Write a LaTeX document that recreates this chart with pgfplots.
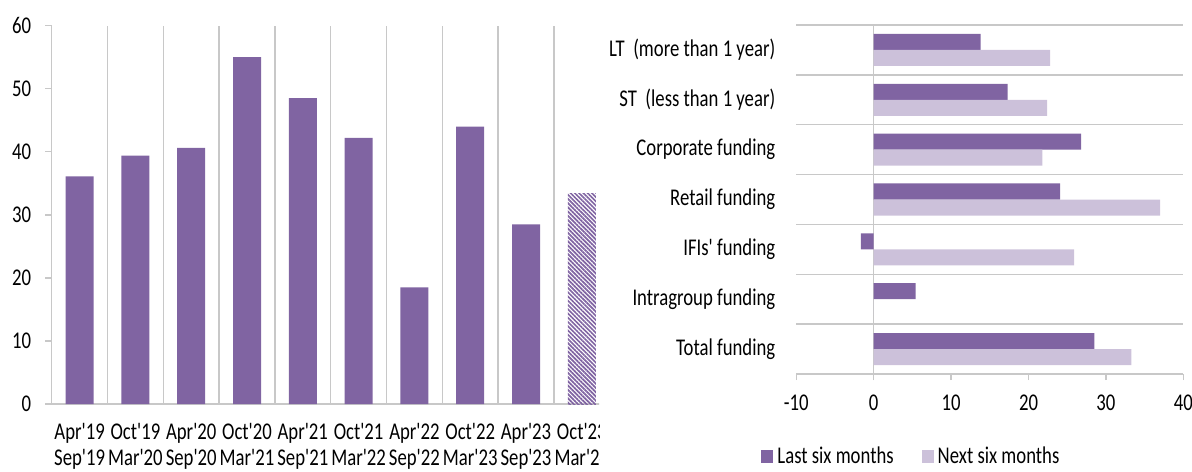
\documentclass[border=0pt]{standalone}
\usepackage{fontspec}
\setmainfont{Carlito}[FakeStretch=0.78, Ligatures=TeXOff]
\usepackage{pgfplots}
\pgfplotsset{compat=1.18}
\usetikzlibrary{patterns.meta}
\definecolor{dk}{RGB}{128,100,162}
\definecolor{lt}{RGB}{204,193,218}
\definecolor{gridc}{RGB}{200,200,200}
\begin{document}
\begin{tikzpicture}
\useasboundingbox (0,0) rectangle (596pt,235.5pt);
\begin{scope}
\clip (0,0) rectangle (299.5pt,235.5pt);
\begin{axis}[
  at={(25.85pt,33.5pt)}, anchor=south west,
  scale only axis, width=279pt, height=189.2pt,
  xmin=-0.5, xmax=9.5, ymin=0, ymax=60,
  ytick={0,10,...,60},
  xtick={0,...,9},
  xticklabels={{Apr'19\\Sep'19},{Oct'19\\Mar'20},{Apr'20\\Sep'20},{Oct'20\\Mar'21},{Apr'21\\Sep'21},{Oct'21\\Mar'22},{Apr'22\\Sep'22},{Oct'22\\Mar'23},{Apr'23\\Sep'23},{Oct'23\\Mar'24}},
  minor xtick={-0.5,0.5,...,9.5},
  xminorgrids, minor grid style={gridc, line width=0.75pt},
  axis x line*=bottom, axis y line*=left,
  axis line style={gridc, line width=0.75pt},
  x axis line style={-}, y axis line style={-},
  tick style={gridc, line width=0.75pt},
  tick align=outside,
  major tick length=3.3pt, minor tick length=4pt,
  xtick style={draw=none},
  /pgf/number format/assume math mode=true,
  tick label style={font=\fontsize{12}{13}\selectfont},
  xticklabel style={align=center, yshift=-3pt},
  yticklabel style={xshift=-3.5pt},
  ybar, bar width=14pt,
]
\addplot[fill=dk, draw=none, bar shift=0pt] coordinates {(0,36.1) (1,39.4) (2,40.6) (3,55.0) (4,48.5) (5,42.2) (6,18.5) (7,44.0) (8,28.5)};
\addplot[draw=none, bar shift=0pt, pattern={Lines[angle=-45,distance=1.5pt,line width=0.85pt]}, pattern color=dk] coordinates {(9,33.3)};
\end{axis}
\end{scope}
\begin{axis}[
  at={(398.15pt,48.5pt)}, anchor=south west,
  scale only axis, width=193.5pt, height=174.5pt,
  xmin=-10, xmax=40, ymin=-0.5, ymax=6.5,
  xtick={-10,0,...,40},
  ytick={0,...,6},
  yticklabels={Total funding, Intragroup funding, IFIs' funding, Retail funding, Corporate funding, {ST\ \ (less than 1 year)}, {LT\ \ (more than 1 year)}},
  minor ytick={-0.5,0.5,...,6.5},
  yminorgrids, minor grid style={gridc, line width=0.75pt},
  axis x line*=bottom, axis y line*=left,
  axis line style={gridc, line width=0.75pt},
  x axis line style={-}, y axis line style={draw=none},
  tick style={gridc, line width=0.75pt},
  tick align=outside,
  major tick length=3pt,
  ytick style={draw=none},
  minor tick length=0pt,
  extra x ticks={0}, extra x tick labels={},
  extra x tick style={grid=major, major grid style={gridc, line width=0.75pt}},
  /pgf/number format/assume math mode=true,
  tick label style={font=\fontsize{12}{13}\selectfont},
  yticklabel style={anchor=east, xshift=-4pt},
  xticklabel style={yshift=-4pt},
  xbar, bar width=8pt,
  legend style={at={(axis description cs:0.30,-0.237)}, anchor=center, draw=none, font=\fontsize{12}{13}\selectfont, legend columns=2, /tikz/every even column/.append style={column sep=12pt}},
  legend image code/.code={\fill[#1] (0pt,-3pt) rectangle (6pt,3.5pt);},
]
\addplot[fill=dk, draw=none, bar shift=4pt] coordinates {(28.5,0) (5.4,1) (-1.65,2) (24.1,3) (26.8,4) (17.3,5) (13.8,6)};
\addlegendentry{Last six months}
\addplot[fill=lt, draw=none, bar shift=-4pt] coordinates {(33.3,0) (0,1) (25.9,2) (37.0,3) (21.8,4) (22.4,5) (22.8,6)};
\addlegendentry{Next six months}
\end{axis}
\end{tikzpicture}
\end{document}
